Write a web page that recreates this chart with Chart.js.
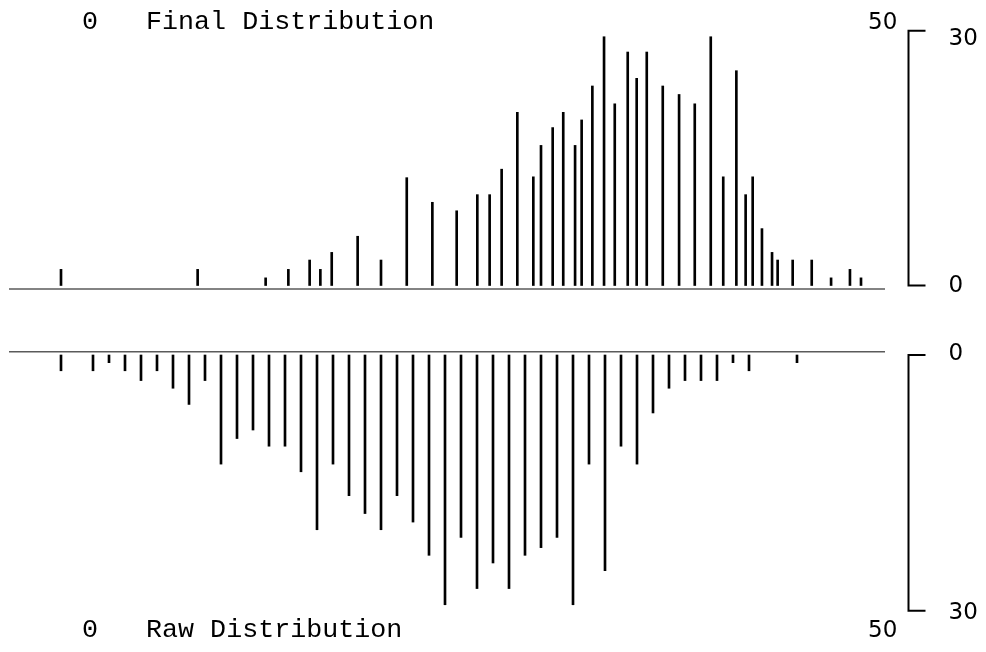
<!DOCTYPE html>
<html>
<head>
<meta charset="utf-8">
<script src="https://cdn.jsdelivr.net/npm/chart.js@4.4.0/dist/chart.umd.min.js"></script>
<style>
  body { margin: 0; background: #fff; }
  canvas { display: block; }
</style>
</head>
<body>
<canvas id="finalChart" width="986" height="326"></canvas>
<canvas id="rawChart" width="986" height="326"></canvas>
<script>
// values
const finalBins = [0, 8.54, 12.79, 14.21, 15.54, 16.21, 16.92, 18.54, 20.0, 21.61,
  23.21, 24.73, 26.02, 26.79, 27.54, 28.52, 29.52, 30.0, 30.73, 31.39,
  32.13, 32.54, 33.21, 33.94, 34.61, 35.42, 35.98, 36.61, 37.61, 38.63,
  39.61, 40.61, 41.39, 42.21, 42.79, 43.23, 43.81, 44.44, 44.79, 45.73,
  46.92, 48.13, 49.31, 50.0];
const finalCounts = [1.9, 1.9, 0.9, 1.9, 3.0, 1.9, 3.9, 5.8, 3.0, 12.7,
  9.8, 8.8, 10.7, 10.7, 13.7, 20.4, 12.8, 16.5, 18.6, 20.4,
  16.5, 19.5, 23.5, 29.3, 21.4, 27.5, 24.4, 27.5, 23.5, 22.5,
  21.4, 29.3, 12.8, 25.3, 10.7, 12.8, 6.7, 3.9, 3.0, 3.0,
  3.0, 0.9, 1.9, 0.9];

const rawBins = [0, 2, 3, 4, 5, 6, 7, 8, 9, 10,
  11, 12, 13, 14, 15, 16, 17, 18, 19, 20,
  21, 22, 23, 24, 25, 26, 27, 28, 29, 30,
  31, 32, 33, 34, 35, 36, 37, 38, 39, 40,
  41, 42, 43, 46];
const rawCounts = [1.85, 1.85, 0.9, 1.85, 3.0, 1.85, 3.9, 5.8, 3.0, 12.8,
  9.8, 8.8, 10.7, 10.7, 13.7, 20.5, 12.8, 16.5, 18.6, 20.5,
  16.5, 19.6, 23.5, 29.3, 21.4, 27.4, 24.4, 27.4, 23.5, 22.6,
  21.4, 29.3, 12.8, 25.3, 10.7, 12.8, 6.8, 3.9, 3.0, 3.0,
  3.0, 0.9, 1.85, 0.9];

const xTicks = [0, 50];
const yTicks = [0, 30];
const finalTitle = 'Final Distribution';
const rawTitle = 'Raw Distribution';

function framePlugin(title, flip) {
  return {
    id: 'frame',
    afterDraw(chart) {
      const ctx = chart.ctx;
      const area = chart.chartArea;
      const x = chart.scales.x, y = chart.scales.y;
      const y0 = y.getPixelForValue(yTicks[0]);
      const yMax = y.getPixelForValue(yTicks[1]);
      ctx.save();

      // grey zero line, a little off the spike bases
      const lineY = flip ? y0 - 3.3 : y0 + 3.5;
      ctx.strokeStyle = '#5a5a5a';
      ctx.lineWidth = 1.5;
      ctx.beginPath();
      ctx.moveTo(area.left, lineY);
      ctx.lineTo(area.right, lineY);
      ctx.stroke();

      // count bracket on the right
      const bx = area.right + 23.5;
      ctx.strokeStyle = '#000';
      ctx.lineWidth = 2;
      ctx.beginPath();
      ctx.moveTo(bx + 17, yMax);
      ctx.lineTo(bx, yMax);
      ctx.lineTo(bx, y0);
      ctx.lineTo(bx + 17, y0);
      ctx.stroke();

      ctx.fillStyle = '#000';
      ctx.font = '23px "DejaVu Sans"';
      ctx.textAlign = 'left';
      ctx.textBaseline = 'middle';
      if (flip) {
        ctx.fillText(String(yTicks[0]), bx + 40, y0 - 1);
        ctx.fillText(String(yTicks[1]), bx + 40, yMax + 2);
      } else {
        ctx.fillText(String(yTicks[1]), bx + 40, yMax + 8);
        ctx.fillText(String(yTicks[0]), bx + 40, y0 + 1);
      }

      // title row: range start, name, range end
      const ty = flip ? area.bottom - 5.5 : area.top + 19.4;
      ctx.textBaseline = 'alphabetic';
      ctx.font = '26.7px "Liberation Mono"';
      ctx.fillText(xTicks[0] + '   ' + title, x.getPixelForValue(xTicks[0]) + 21, ty);
      ctx.font = '23px "DejaVu Sans"';
      ctx.fillText(String(xTicks[1]), x.getPixelForValue(xTicks[1]) + 7, ty);
      ctx.restore();
    }
  };
}

function makeChart(id, bins, counts, yMin, yMax, flip, pad, title) {
  return new Chart(document.getElementById(id), {
    type: 'bar',
    data: {
      datasets: [{
        data: bins.map((b, i) => ({ x: b, y: counts[i] })),
        backgroundColor: '#000',
        borderWidth: 0,
        barThickness: 2
      }]
    },
    options: {
      responsive: false,
      animation: false,
      devicePixelRatio: 1,
      layout: { padding: pad },
      scales: {
        x: { type: 'linear', min: -3.25, max: 51.5, offset: false, display: false },
        y: { type: 'linear', min: yMin, max: yMax, reverse: flip, display: false }
      },
      plugins: { legend: { display: false }, tooltip: { enabled: false } }
    },
    plugins: [framePlugin(title, flip)]
  });
}

makeChart('finalChart', finalBins, finalCounts, -1.708, 32.45, false,
  { left: 9, right: 101, top: 10, bottom: 26 }, finalTitle);
makeChart('rawChart', rawBins, rawCounts, -2.229, 33.67, true,
  { left: 9, right: 101, top: 10, bottom: 10 }, rawTitle);
</script>
</body>
</html>
